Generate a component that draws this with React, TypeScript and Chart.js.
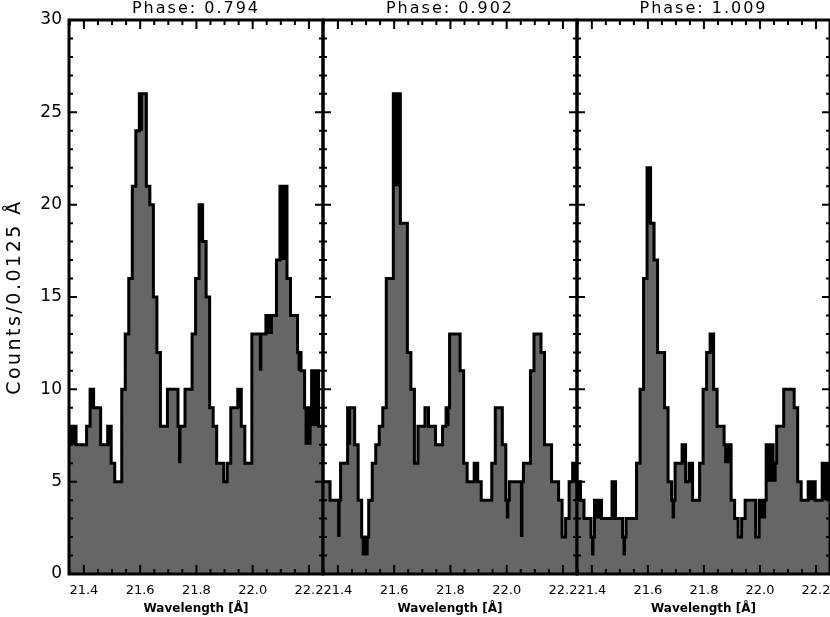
import React, { useEffect, useRef } from 'react';
import { Chart, registerables } from 'chart.js';

Chart.register(...registerables);

// ---- data -------------------------------------------------------------
const panelTitles = ['Phase: 0.794', 'Phase: 0.902', 'Phase: 1.009'];
const xAxisTitle = 'Wavelength [Å]';
const yAxisTitle = 'Counts/0.0125 Å';

const binStart = 21.347; // left edge of first bin (Å)
const binWidth = 0.0125; // Å
const xMin = 21.347;
const xMax = 22.25;
const yMin = 0;
const yMax = 30;
const xTickValues = [21.4, 21.6, 21.8, 22.0, 22.2];
const yTickStep = 5;

// histogram outline counts (black step line)
const outline0794 = [8, 8, 7, 7, 7, 8, 10, 9, 9, 7, 7, 8, 6, 5, 5, 10, 13, 16, 21, 24, 26, 26, 21, 20, 15, 12, 8, 8, 10, 10, 10, 8, 8, 10, 10, 13, 16, 20, 18, 15, 9, 8, 6, 6, 5, 6, 9, 9, 10, 8, 6, 6, 13, 13, 13, 13, 14, 14, 14, 17, 21, 21, 16, 14, 14, 12, 11, 9, 9, 11, 11, 8];
// grey filled counts
const fill0794 = [7, 7, 7, 7, 7, 8, 9, 9, 9, 7, 7, 7, 6, 5, 5, 10, 13, 16, 21, 24, 24, 26, 21, 20, 15, 12, 8, 8, 10, 10, 10, 6, 8, 10, 10, 13, 16, 18, 18, 15, 9, 8, 6, 6, 5, 6, 9, 9, 9, 8, 6, 6, 13, 13, 11, 13, 13, 13, 14, 17, 17, 17, 16, 14, 14, 11, 11, 7, 7, 8, 8, 8];

const outline0902 = [5, 5, 4, 4, 4, 6, 6, 9, 9, 7, 4, 2, 2, 4, 6, 7, 8, 9, 16, 16, 26, 26, 19, 19, 12, 10, 6, 8, 8, 9, 8, 8, 7, 7, 8, 9, 13, 13, 13, 11, 6, 5, 5, 6, 5, 4, 4, 4, 6, 9, 9, 7, 4, 5, 5, 5, 5, 6, 6, 11, 13, 13, 12, 7, 7, 5, 5, 4, 2, 3, 5, 6];
const fill0902 = [5, 5, 4, 4, 2, 6, 6, 7, 9, 7, 4, 1, 1, 4, 6, 7, 8, 9, 16, 16, 21, 21, 19, 19, 12, 10, 6, 8, 8, 9, 8, 8, 7, 7, 8, 8, 13, 13, 13, 11, 6, 5, 5, 5, 5, 4, 4, 4, 6, 9, 9, 7, 3, 5, 5, 5, 2, 6, 6, 11, 13, 13, 12, 7, 7, 5, 5, 4, 2, 3, 5, 5];

const outline1009 = [5, 4, 3, 3, 2, 4, 4, 3, 3, 3, 5, 3, 3, 2, 3, 3, 3, 6, 10, 16, 22, 19, 17, 12, 12, 9, 5, 4, 6, 6, 7, 5, 6, 4, 4, 6, 10, 12, 13, 10, 8, 8, 7, 7, 4, 3, 2, 3, 4, 4, 4, 2, 4, 4, 7, 7, 6, 8, 8, 10, 10, 10, 9, 5, 4, 4, 5, 5, 4, 4, 6, 6];
const fill1009 = [4, 4, 3, 3, 1, 3, 3, 3, 3, 3, 3, 3, 3, 1, 3, 3, 3, 6, 10, 16, 19, 19, 17, 12, 12, 9, 5, 3, 6, 6, 6, 5, 5, 4, 4, 6, 10, 12, 12, 10, 8, 8, 6, 6, 4, 3, 2, 3, 4, 4, 4, 2, 3, 3, 5, 5, 5, 8, 8, 10, 10, 10, 9, 5, 4, 4, 4, 4, 4, 4, 4, 4];

const panels = [
  { title: panelTitles[0], outline: outline0794, fill: fill0794 },
  { title: panelTitles[1], outline: outline0902, fill: fill0902 },
  { title: panelTitles[2], outline: outline1009, fill: fill1009 },
];

// ---- layout (pixels) --------------------------------------------------
const CANVAS_W = 840;
const CANVAS_H = 617;
const areaLeft = [69, 323, 577];
const areaRight = [323, 577, 831];
const TOP = 20;
const XAXIS_H = 43;
const GREY = '#666666';

function makePoints(vals: number[]) {
  const pts = vals.map((v, i) => ({ x: binStart + i * binWidth, y: v }));
  pts.push({ x: xMax, y: vals[vals.length - 1] });
  return pts;
}

function makeFramePlugin(index: number, title: string) {
  return {
    id: 'frameTicks' + index,
    afterDraw(chart: any) {
      const { ctx, chartArea: a } = chart;
      const xs = chart.scales.x;
      const ys = chart.scales.y;
      ctx.save();
      // inward ticks
      ctx.strokeStyle = '#000';
      ctx.lineWidth = 2;
      ctx.beginPath();
      for (let k = 0; k <= 18; k++) {
        const v = 21.35 + k * 0.05;
        if (v > xMax + 1e-9) break;
        const px = xs.getPixelForValue(v);
        const major = Math.abs(v * 5 - Math.round(v * 5)) < 1e-6;
        const len = major ? 9 : 5;
        ctx.moveTo(px, a.bottom);
        ctx.lineTo(px, a.bottom - len);
        ctx.moveTo(px, a.top);
        ctx.lineTo(px, a.top + len);
      }
      for (let v = yMin + 1; v < yMax; v++) {
        const py = ys.getPixelForValue(v);
        const len = v % 5 === 0 ? 8 : 4;
        ctx.moveTo(a.left, py);
        ctx.lineTo(a.left + len, py);
        ctx.moveTo(a.right, py);
        ctx.lineTo(a.right - len, py);
      }
      ctx.stroke();
      // frame
      ctx.lineWidth = 3;
      ctx.strokeRect(a.left, a.top, a.right - a.left, a.bottom - a.top);

      // texts
      ctx.fillStyle = '#000';
      const cx = (a.left + a.right) / 2;
      ctx.textAlign = 'center';
      ctx.textBaseline = 'alphabetic';
      ctx.font = '16px "DejaVu Sans"';
      (ctx as any).letterSpacing = '2px';
      ctx.fillText(title, cx, 13);

      (ctx as any).letterSpacing = '0px';
      ctx.font = 'bold 12px "DejaVu Sans"';
      ctx.fillText(xAxisTitle, cx, 612);

      if (index === 0) {
        ctx.save();
        ctx.translate(15, (a.top + a.bottom) / 2);
        ctx.rotate(-Math.PI / 2);
        ctx.font = '19px "DejaVu Sans"';
        (ctx as any).letterSpacing = '2.5px';
        ctx.textBaseline = 'middle';
        ctx.fillText(yAxisTitle, 0, 0);
        ctx.restore();
      }
      ctx.restore();
    },
  };
}

function Panel({ index }: { index: number }) {
  const ref = useRef<HTMLCanvasElement | null>(null);
  useEffect(() => {
    if (!ref.current) return;
    const p = panels[index];
    const showY = index === 0;
    const chart = new Chart(ref.current, {
      type: 'line',
      data: {
        datasets: [
          {
            data: makePoints(p.outline),
            stepped: true,
            fill: 'origin',
            backgroundColor: '#000000',
            borderColor: 'rgba(0,0,0,0)',
            borderWidth: 0,
            pointRadius: 0,
            order: 3,
          },
          {
            data: makePoints(p.fill),
            stepped: true,
            fill: 'origin',
            backgroundColor: GREY,
            borderColor: 'rgba(0,0,0,0)',
            borderWidth: 0,
            pointRadius: 0,
            order: 2,
          },
          {
            data: makePoints(p.outline),
            stepped: true,
            fill: false,
            borderColor: '#000000',
            borderWidth: 3,
            pointRadius: 0,
            order: 1,
          },
        ],
      } as any,
      options: {
        animation: false,
        responsive: false,
        devicePixelRatio: 1,
        events: [],
        layout: {
          padding: {
            left: showY ? 0 : areaLeft[index],
            right: CANVAS_W - areaRight[index],
            top: TOP,
            bottom: 0,
          },
        },
        plugins: {
          legend: { display: false },
          tooltip: { enabled: false },
          title: { display: false },
        },
        scales: {
          x: {
            type: 'linear',
            min: xMin,
            max: xMax,
            grid: { display: false, drawTicks: false },
            border: { display: false },
            afterFit: (s: any) => {
              s.height = XAXIS_H;
            },
            afterBuildTicks: (s: any) => {
              s.ticks = xTickValues.map((v) => ({ value: v }));
            },
            ticks: {
              autoSkip: false,
              maxRotation: 0,
              padding: 9,
              color: '#000',
              font: { family: 'DejaVu Sans', size: 13 },
              callback: (v: any) => Number(v).toFixed(1),
            },
          },
          y: {
            type: 'linear',
            min: yMin,
            max: yMax,
            display: showY,
            grid: { display: false, drawTicks: false },
            border: { display: false },
            afterFit: (s: any) => {
              s.width = showY ? areaLeft[0] : 0;
            },
            ticks: {
              stepSize: yTickStep,
              padding: 7,
              color: '#000',
              font: { family: 'DejaVu Sans', size: 17 },
            },
          },
        },
      } as any,
      plugins: [makeFramePlugin(index, p.title)],
    });
    return () => chart.destroy();
  }, [index]);
  return (
    <canvas
      ref={ref}
      width={CANVAS_W}
      height={CANVAS_H}
      style={{ position: 'absolute', left: 0, top: 0, width: CANVAS_W, height: CANVAS_H }}
    />
  );
}

export default function App() {
  useEffect(() => {
    document.body.style.margin = '0';
  }, []);
  return (
    <div
      style={{
        position: 'relative',
        width: 830,
        height: 617,
        overflow: 'hidden',
        background: '#fff',
      }}
    >
      <Panel index={0} />
      <Panel index={1} />
      <Panel index={2} />
    </div>
  );
}
